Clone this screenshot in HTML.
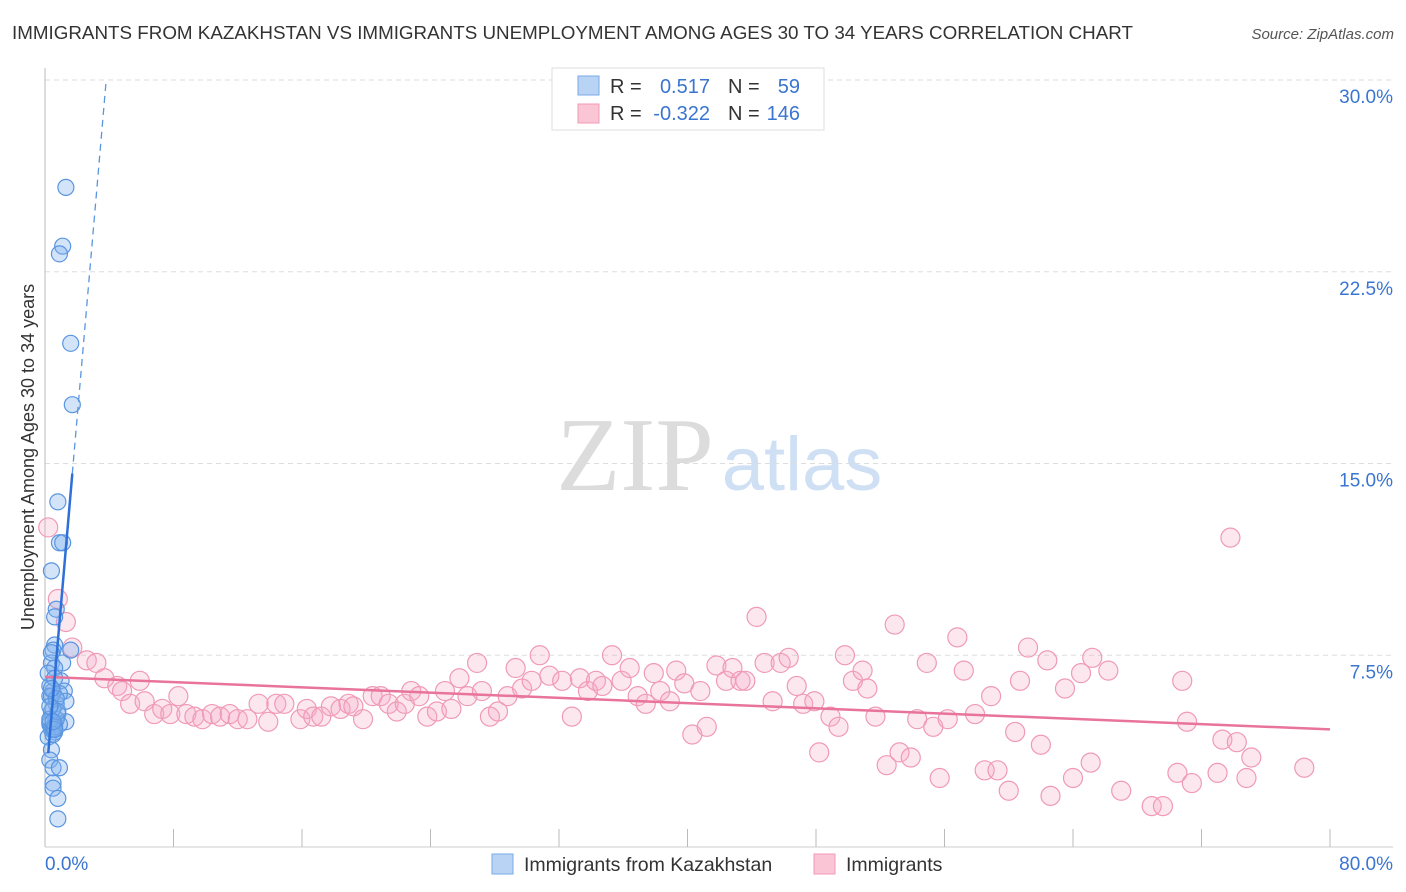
<!DOCTYPE html>
<html><head><meta charset="utf-8"><style>
body{margin:0;background:#fff;font-family:"Liberation Sans",sans-serif;}
#wrap{position:relative;width:1406px;height:892px;overflow:hidden}
</style></head><body>
<div id="wrap">
<svg id="svg" width="1406" height="892" xmlns="http://www.w3.org/2000/svg">
<text x="12" y="39" font-size="18.8" fill="#333" textLength="1121">IMMIGRANTS FROM KAZAKHSTAN VS IMMIGRANTS UNEMPLOYMENT AMONG AGES 30 TO 34 YEARS CORRELATION CHART</text>
<text x="1394" y="39" font-size="15" font-style="italic" fill="#555" text-anchor="end">Source: ZipAtlas.com</text>
<text x="635" y="490" font-size="105" font-family="Liberation Serif,serif" fill="#dcdcdc" text-anchor="middle">ZIP</text>
<text x="802" y="490" font-size="76" fill="#cfe0f5" text-anchor="middle">atlas</text>
<text transform="translate(34,457) rotate(-90)" font-size="18" fill="#333" text-anchor="middle">Unemployment Among Ages 30 to 34 years</text>
<g id="grid"></g><g id="axes"></g><g id="pink"></g><g id="blue"></g><g id="lines"></g>
<g>
<rect x="552" y="68" width="272" height="62" fill="#fff" stroke="#ddd"/>
<rect x="578" y="76" width="21" height="19" fill="#b9d3f5" stroke="#7aaae8"/>
<rect x="578" y="104" width="21" height="19" fill="#fac5d5" stroke="#f09ab5"/>
<text x="610" y="93" font-size="20" fill="#333">R =</text><text x="710" y="93" font-size="20" fill="#3a75d0" text-anchor="end">0.517</text>
<text x="728" y="93" font-size="20" fill="#333">N =</text><text x="800" y="93" font-size="20" fill="#3a75d0" text-anchor="end">59</text>
<text x="610" y="120" font-size="20" fill="#333">R =</text><text x="710" y="120" font-size="20" fill="#3a75d0" text-anchor="end">-0.322</text>
<text x="728" y="120" font-size="20" fill="#333">N =</text><text x="800" y="120" font-size="20" fill="#3a75d0" text-anchor="end">146</text>
</g>
<g>
<rect x="492" y="854" width="21" height="20" fill="#b9d3f5" stroke="#7aaae8"/>
<text x="524" y="871" font-size="19.5" fill="#333">Immigrants from Kazakhstan</text>
<rect x="814" y="854" width="21" height="20" fill="#fac5d5" stroke="#f09ab5"/>
<text x="846" y="871" font-size="19.5" fill="#333">Immigrants</text>
</g>
</svg>
</div>
<script>
const xTicks=[0,8,16,24,32,40,48,56,64,72,80];
const yTicks=[7.5,15,22.5,30];
const yTickLabels=["7.5%","15.0%","22.5%","30.0%"];
const xEndLabels=["0.0%","80.0%"];
const blueX=[1.3,1.1,0.9,1.6,1.7,0.8,0.9,1.1,0.4,0.7,0.6,0.6,0.5,1.6,0.4,1.1,0.6,0.3,1.0,1.2,0.5,0.3,0.7,1.3,0.4,0.8,1.3,0.3,0.6,0.9,0.4,0.6,0.2,0.4,0.3,0.5,0.9,0.5,0.5,0.8,0.8,0.5,0.7,0.4,0.9,0.2,0.3,0.5,0.6,0.4,0.7,0.3,0.6,0.5,0.8,0.4,0.3,0.6,0.5];
const blueY=[25.8,23.5,23.2,19.7,17.3,13.5,11.9,11.9,10.8,9.3,9.0,7.9,7.7,7.7,7.2,7.2,7.0,6.3,6.5,6.1,6.1,5.9,5.6,5.7,5.3,5.2,4.9,4.8,4.8,4.8,4.6,4.5,4.3,3.8,3.4,3.1,3.1,2.5,2.3,1.9,1.1,4.6,5.0,5.9,6.0,6.8,4.9,5.4,6.6,7.6,5.8,5.0,4.7,4.4,5.3,6.2,5.5,4.6,4.9];
const pinkX=[0.2,0.8,1.3,1.7,2.6,3.2,3.7,4.5,4.8,5.3,5.9,6.2,6.8,7.3,7.8,8.3,8.8,9.3,9.8,10.4,10.9,11.5,12.0,12.6,13.3,13.9,14.4,14.9,15.9,16.3,16.7,17.2,17.8,18.4,18.9,19.2,19.8,20.4,20.9,21.4,21.9,22.4,22.8,23.3,23.8,24.4,24.9,25.3,25.8,26.3,26.9,27.2,27.7,28.2,28.8,29.3,29.7,30.3,30.8,31.4,32.2,32.8,33.3,33.8,34.3,34.7,35.3,35.9,36.4,36.9,37.4,37.9,38.3,38.9,39.3,39.8,40.3,40.8,41.2,41.8,42.4,42.8,43.3,43.6,44.3,44.8,45.3,45.8,46.3,46.8,47.2,47.9,48.2,48.9,49.4,49.8,50.3,50.9,51.2,51.7,52.4,52.9,53.2,53.9,54.3,54.9,55.3,55.7,56.2,56.8,57.2,57.9,58.5,58.9,59.3,60.0,60.4,60.7,61.2,62.0,62.4,62.6,63.5,64.0,64.5,65.1,65.2,66.2,67.0,68.9,69.6,70.5,70.8,71.1,71.4,73.0,73.3,73.8,74.2,74.8,75.1,78.4];
const pinkY=[12.5,9.7,8.8,7.8,7.3,7.2,6.6,6.3,6.1,5.6,6.5,5.7,5.2,5.4,5.2,5.9,5.2,5.1,5.0,5.2,5.1,5.2,5.0,5.0,5.6,4.9,5.6,5.6,5.0,5.4,5.1,5.1,5.5,5.4,5.6,5.5,5.0,5.9,5.9,5.6,5.3,5.6,6.1,5.9,5.1,5.3,6.1,5.4,6.6,5.9,7.2,6.1,5.1,5.3,5.9,7.0,6.2,6.5,7.5,6.7,6.5,5.1,6.6,6.1,6.5,6.3,7.5,6.5,7.0,5.9,5.6,6.8,6.1,5.7,6.9,6.4,4.4,6.1,4.7,7.1,6.5,7.0,6.5,6.5,9.0,7.2,5.7,7.2,7.4,6.3,5.6,5.7,3.7,5.1,4.7,7.5,6.5,6.9,6.2,5.1,3.2,8.7,3.7,3.5,5.0,7.2,4.7,2.7,5.0,8.2,6.9,5.2,3.0,5.9,3.0,2.2,4.5,6.5,7.8,4.0,7.3,2.0,6.2,2.7,6.8,3.3,7.4,6.9,2.2,1.6,1.6,2.9,6.5,4.9,2.5,2.9,4.2,12.1,4.1,2.7,3.5,3.1];
const NS="http://www.w3.org/2000/svg";
const X0=45,X1=1330,Y0=847,Y1=80;
function sx(v){return X0+v/80*(X1-X0);}
function sy(v){return Y0-v/30*(Y0-Y1);}
function mk(tag,attrs,parent){const e=document.createElementNS(NS,tag);for(const k in attrs)e.setAttribute(k,attrs[k]);parent.appendChild(e);return e;}
const grid=document.getElementById('grid'),axes=document.getElementById('axes');
yTicks.forEach((t,i)=>{
  const l=mk('line',{x1:X0,x2:1393,y1:sy(t),y2:sy(t),stroke:'#ddd','stroke-dasharray':'5,4'},grid);
  
  
  const tx=mk('text',{x:1393,y:sy(t)+23,'font-size':19,fill:'#3a75d0','text-anchor':'end'},axes);
  tx.textContent=yTickLabels[i];
  
  
});
const ax=mk('line',{x1:X0,x2:X0,y1:68,y2:Y0,stroke:'#bbb'},axes);


const bx=mk('line',{x1:X0,x2:1393,y1:Y0,y2:Y0,stroke:'#ccc'},axes);


xTicks.slice(1).forEach(t=>{
  const tk=mk('line',{x1:sx(t),x2:sx(t),y1:829,y2:Y0,stroke:'#bbb'},axes);
  
  
});
const l0=mk('text',{x:X0,y:870,'font-size':19,fill:'#3a75d0'},axes);l0.textContent=xEndLabels[0];


const l1=mk('text',{x:1393,y:870,'font-size':19,fill:'#3a75d0','text-anchor':'end'},axes);l1.textContent=xEndLabels[1];


const pg=document.getElementById('pink');
pinkX.forEach((x,i)=>{
  const c=mk('circle',{cx:sx(x),cy:sy(pinkY[i]),r:9.5,fill:'rgba(246,168,196,0.28)',stroke:'#f09ab5','stroke-width':1.2},pg);
  
  
});
const bg=document.getElementById('blue');
blueX.forEach((x,i)=>{
  const c=mk('circle',{cx:sx(x),cy:sy(blueY[i]),r:8,fill:'rgba(130,178,238,0.35)',stroke:'#5a95e0','stroke-width':1.2},bg);
  
  
});
function reg(xs,ys){const n=xs.length;let mx=0,my=0;for(let i=0;i<n;i++){mx+=xs[i];my+=ys[i];}mx/=n;my/=n;let a=0,b=0;for(let i=0;i<n;i++){a+=(xs[i]-mx)*(ys[i]-my);b+=(xs[i]-mx)**2;}const s=a/b;return [s,my-s*mx];}
const lg=document.getElementById('lines');
const [ps,pi]=reg(pinkX,pinkY);
const pl=mk('line',{x1:sx(0),y1:sy(pi),x2:sx(80),y2:sy(pi+ps*80),stroke:'#e8739b','stroke-width':2.5},lg);


const [bs,bi]=reg(blueX,blueY);
const bxmin=Math.min(...blueX),bxmax=Math.max(...blueX);
const bl=mk('line',{x1:sx(bxmin),y1:sy(bi+bs*bxmin),x2:sx(bxmax),y2:sy(bi+bs*bxmax),stroke:'#2f6fd8','stroke-width':2.5},lg);


const xTop=(30-bi)/bs;
const bd=mk('line',{x1:sx(bxmax),y1:sy(bi+bs*bxmax),x2:sx(xTop),y2:sy(30),stroke:'#5a95e0','stroke-width':1.3,'stroke-dasharray':'7,5'},lg);


</script>
</body></html>
